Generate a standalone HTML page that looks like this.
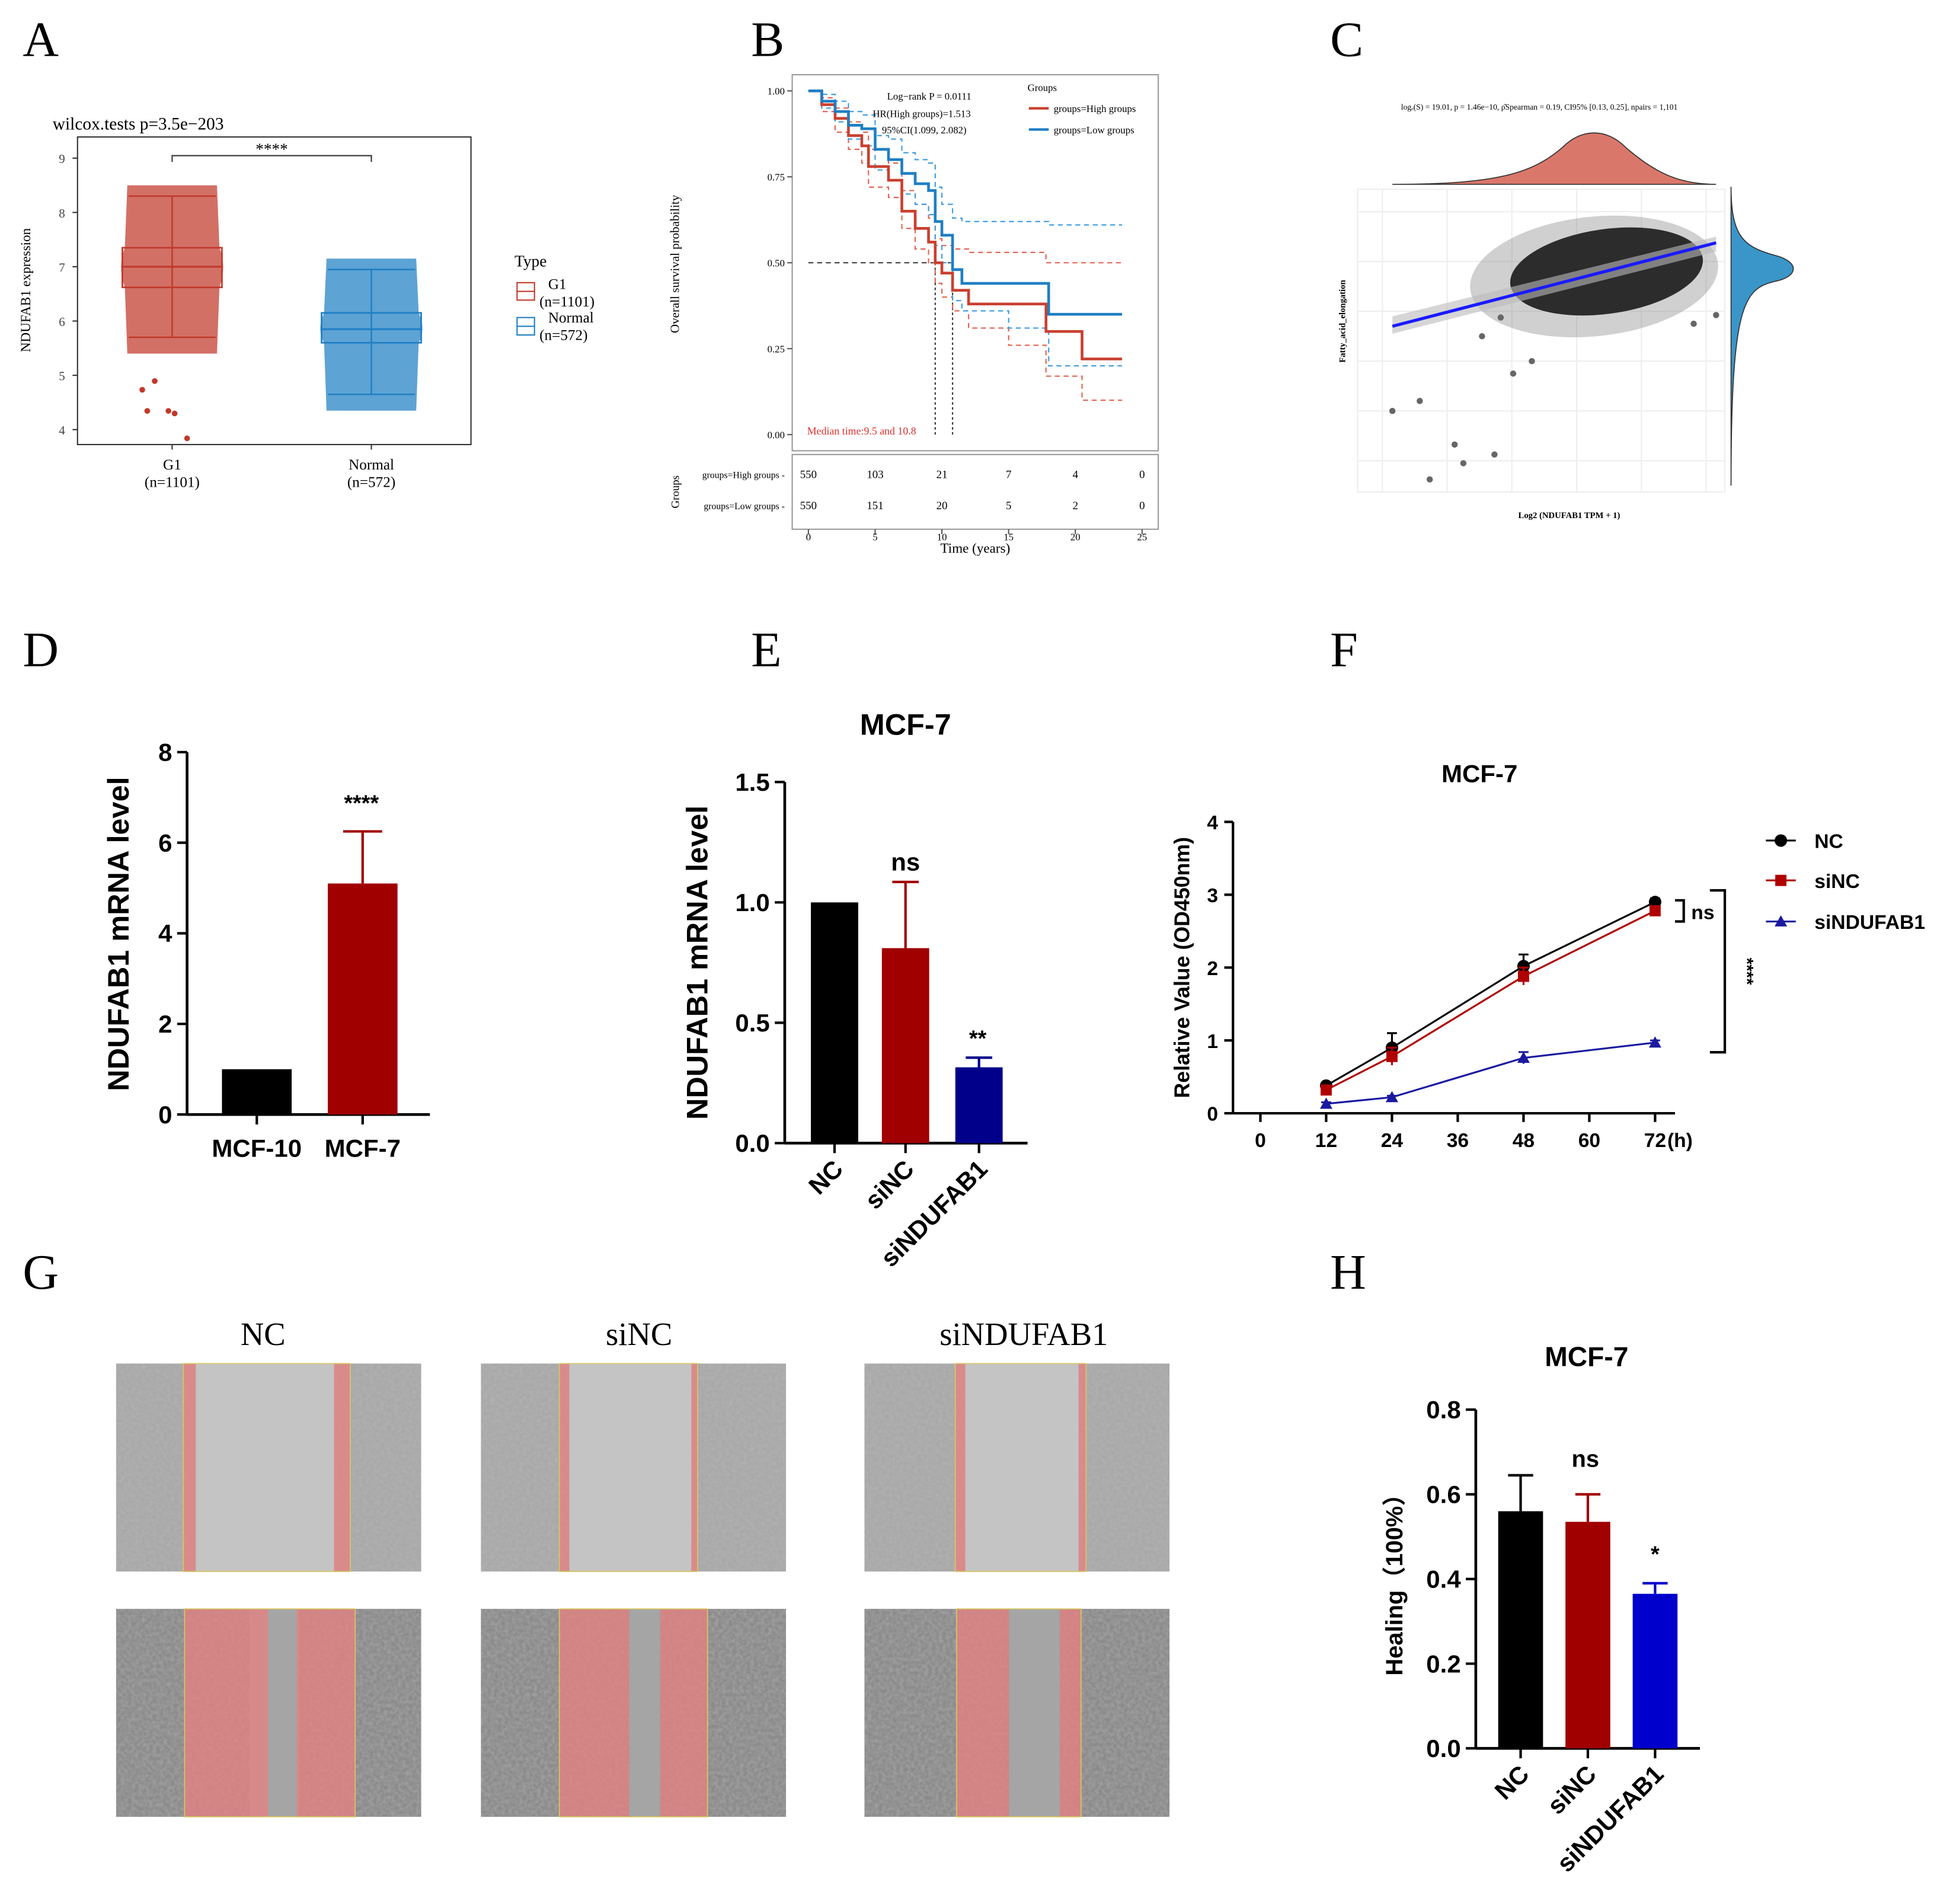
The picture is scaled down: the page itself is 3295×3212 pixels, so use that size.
<!DOCTYPE html>
<html><head><meta charset="utf-8">
<style>
html,body{margin:0;padding:0;background:#fff;}
svg{display:block;}
.serif{font-family:"Liberation Serif",serif;}
.sans{font-family:"Liberation Sans",sans-serif;font-weight:bold;}
</style></head>
<body>
<svg id="fig" width="3295" height="3212" viewBox="0 0 1568 1529" xmlns="http://www.w3.org/2000/svg">
<defs>
<filter id="noise" x="0" y="0" width="100%" height="100%">
<feTurbulence type="fractalNoise" baseFrequency="0.35" numOctaves="2" seed="3" result="n"/>
<feColorMatrix in="n" type="matrix" values="0 0 0 0 0.5  0 0 0 0 0.5  0 0 0 0 0.5  0 0 0 1.2 -0.3" result="m"/>
<feComposite in="m" in2="SourceGraphic" operator="in"/>
</filter>
</defs>
<g id="root"></g>
</svg>
<script>
// ---------- DATA ----------
// Panel A
const aCategories=['G1','Normal'];
const aBoxStats=[[5.7,6.62,7.0,7.35,8.3],[4.65,5.6,5.85,6.15,6.95]];
const aTicks=[4,5,6,7,8,9];
// Panel B
const bTicks=[0,0.25,0.5,0.75,1.0];
const bTickLabels=['0.00','0.25','0.50','0.75','1.00'];
const bTimeTicks=[0,5,10,15,20,25];
const bHighT=[0,1,2,3,4,4.5,5,6,7,8,9,9.5,10,10.8,12,15,17.8,20.5,23.5];
const bHighS=[1,0.96,0.92,0.87,0.84,0.78,0.78,0.74,0.65,0.6,0.56,0.5,0.47,0.42,0.38,0.38,0.3,0.22,0.22];
const bLowT=[0,1,2,3,4,5,6,7,8,9,9.5,10,10.8,11.5,15,18,23.5];
const bLowS=[1,0.97,0.94,0.9,0.89,0.83,0.8,0.76,0.73,0.71,0.62,0.58,0.48,0.44,0.44,0.35,0.35];
const bHighUp=[1,0.98,0.95,0.91,0.88,0.83,0.83,0.79,0.71,0.67,0.63,0.57,0.55,0.54,0.53,0.53,0.5,0.5,0.5];
const bHighLo=[1,0.94,0.88,0.83,0.79,0.72,0.72,0.69,0.6,0.54,0.5,0.44,0.4,0.36,0.31,0.26,0.17,0.1,0.1];
const bLowUp=[1,0.99,0.97,0.94,0.93,0.87,0.86,0.82,0.8,0.79,0.72,0.67,0.63,0.62,0.62,0.61,0.61];
const bLowLo=[1,0.95,0.91,0.86,0.84,0.77,0.74,0.7,0.67,0.64,0.55,0.5,0.39,0.36,0.31,0.2,0.2];
const bRiskHigh=['550','103','21','7','4','0'];
const bRiskLow=['550','151','20','5','2','0'];
// Panel D
const dCategories=['MCF-10','MCF-7'];
const dValues=[1,5.1];
const dErrors=[0,6.25];
const dTicks=[0,2,4,6,8];
// Panel E
const eCategories=['NC','siNC','siNDUFAB1'];
const eValues=[1.0,0.81,0.315];
const eErrors=[1.0,1.085,0.355];
const eTicks=[0,0.5,1.0,1.5];
const eTickLabels=['0.0','0.5','1.0','1.5'];
// Panel F
const fTimes=[12,24,48,72];
const fNC=[0.38,0.9,2.02,2.9];
const fNCerr=[0.42,1.1,2.18,2.95];
const fSiNC=[0.32,0.78,1.88,2.78];
const fSiNCerr=[0.36,0.9,2.0,2.84];
const fSi=[0.13,0.22,0.76,0.97];
const fSiErr=[0.15,0.24,0.84,1.0];
const fXTicks=[0,12,24,36,48,60,72];
const fYTicks=[0,1,2,3,4];
// Panel H
const hCategories=['NC','siNC','siNDUFAB1'];
const hValues=[0.56,0.535,0.365];
const hErrors=[0.645,0.6,0.39];
const hTicks=[0,0.2,0.4,0.6,0.8];
const hTickLabels=['0.0','0.2','0.4','0.6','0.8'];

// ---------- HELPERS ----------
const NS='http://www.w3.org/2000/svg';
const root=document.getElementById('root');
function mk(tag,attrs,parent,text){const e=document.createElementNS(NS,tag);for(const k in attrs)e.setAttribute(k,attrs[k]);if(text!==undefined)e.textContent=text;(parent||root).appendChild(e);return e;}
function grp(name,parent){const g=mk('g',{},parent);


return g;}
function txt(p,x,y,s,size,cls,anchor,extra){const t=mk('text',Object.assign({x:x,y:y,'font-size':size,'class':cls,'text-anchor':anchor||'middle'},extra||{}),p,s);return t;}
function line(p,x1,y1,x2,y2,st,w,dash){const a={x1:x1,y1:y1,x2:x2,y2:y2,stroke:st,'stroke-width':w||1};if(dash)a['stroke-dasharray']=dash;return mk('line',a,p);}
function lin(d0,d1,r0,r1){return v=>r0+(v-d0)*(r1-r0)/(d1-d0);}

[['A',18,45],['B',603,45],['C',1068,45],['D',18,535],['E',603,535],['F',1068,535],['G',18,1035],['H',1068,1035]].forEach(l=>{
const t=txt(root,l[1],l[2],l[0],40,'serif','start');

});

// ---------- PANEL A ----------
(function(){
const g=grp('panel-a-boxplot');
const y=lin(4,9,345,127);
const xs=[138,298];
mk('rect',{x:62,y:110,width:316,height:247,fill:'none',stroke:'#333','stroke-width':1},g);
txt(g,42,104,'wilcox.tests p=3.5e−203',14,'serif','start');
aTicks.forEach(t=>{line(g,58,y(t),62,y(t),'#333');txt(g,52,y(t)+4,t,10,'serif','end',{fill:'#444'});});
const yl=txt(g,24,233,'NDUFAB1 expression',11,'serif','middle',{transform:'rotate(-90 24 233)'});

const cols=['#c0392b','#1f7fc4'];
aCategories.forEach((c,i)=>{
const s=aBoxStats[i],x=xs[i],col=cols[i];
const cloud=mk('path',{d:`M${x-38},${y(s[1])} Q${x-44},${y(s[2])} ${x-38},${y(s[3])} L${x-36},${y(s[4]+0.2)} L${x+36},${y(s[4]+0.2)} L${x+38},${y(s[3])} Q${x+44},${y(s[2])} ${x+38},${y(s[1])} L${x+36},${y(s[0]-0.3)} L${x-36},${y(s[0]-0.3)} Z`,fill:col,opacity:0.72},g);

line(g,x,y(s[0]),x,y(s[4]),col,1.2);
line(g,x-35,y(s[0]),x+35,y(s[0]),col,1.2);line(g,x-35,y(s[4]),x+35,y(s[4]),col,1.2);
const b=mk('rect',{x:x-40,y:y(s[3]),width:80,height:y(s[1])-y(s[3]),fill:'none',stroke:col,'stroke-width':1.3},g);

line(g,x-40,y(s[2]),x+40,y(s[2]),col,1.5);
line(g,x,357,x,361,'#333');
});
txt(g,138,377,'G1',12,'serif');txt(g,138,391,'(n=1101)',12,'serif');
txt(g,298,377,'Normal',12,'serif');txt(g,298,391,'(n=572)',12,'serif');
[[118,330],[140,332],[150,352],[124,306],[114,313],[135,330]].forEach(p=>mk('circle',{cx:p[0],cy:p[1],r:2.3,fill:'#c0392b'},g));
mk('path',{d:'M138,130 L138,125 L298,125 L298,130',fill:'none',stroke:'#333'},g);
txt(g,218,124,'****',13,'serif');
const lg=grp('legend-a',g);
txt(lg,413,214,'Type',13,'serif','start');
mk('rect',{x:415,y:227,width:14,height:14,fill:'none',stroke:'#c0392b'},lg);line(lg,415,234,429,234,'#c0392b');
mk('rect',{x:415,y:255,width:14,height:14,fill:'none',stroke:'#1f7fc4'},lg);line(lg,415,262,429,262,'#1f7fc4');
txt(lg,440,232,'G1',12,'serif','start');txt(lg,433,246,'(n=1101)',12,'serif','start');
txt(lg,440,259,'Normal',12,'serif','start');txt(lg,433,273,'(n=572)',12,'serif','start');
})();

// ---------- PANEL B ----------
(function(){
const g=grp('panel-b-km');
const x=lin(0,25,649,917),y=lin(0,1,349,73);
mk('rect',{x:636,y:60,width:294,height:302,fill:'none',stroke:'#999'},g);
mk('rect',{x:636,y:365,width:294,height:60,fill:'none',stroke:'#999'},g);
bTicks.forEach((t,i)=>{line(g,632,y(t),636,y(t),'#555');txt(g,630,y(t)+3,bTickLabels[i],8,'serif','end');});
bTimeTicks.forEach(t=>{line(g,x(t),425,x(t),429,'#555');txt(g,x(t),434,t,8,'serif');});
txt(g,783,444,'Time (years)',11,'serif');
txt(g,545,212,'Overall survival probability',10,'serif','middle',{transform:'rotate(-90 545 212)'});
txt(g,545,395,'Groups',9,'serif','middle',{transform:'rotate(-90 545 395)'});
function step(T,S){let d=`M${x(T[0])},${y(S[0])}`;for(let i=1;i<T.length;i++){d+=` H${x(T[i])} V${y(S[i])}`;}return d;}
line(g,x(0),y(0.5),x(10.8),y(0.5),'#333',1,'4 3');
line(g,x(9.5),y(0.5),x(9.5),y(0),'#333',1,'2 2');
line(g,x(10.8),y(0.5),x(10.8),y(0),'#333',1,'2 2');
[[bHighUp,'#e0604f'],[bHighLo,'#e0604f']].forEach(c=>mk('path',{d:step(bHighT,c[0]),fill:'none',stroke:c[1],'stroke-dasharray':'4 3'},g));
[[bLowUp,'#3a9be0'],[bLowLo,'#3a9be0']].forEach(c=>mk('path',{d:step(bLowT,c[0]),fill:'none',stroke:c[1],'stroke-dasharray':'4 3'},g));
const h=mk('path',{d:step(bHighT,bHighS),fill:'none',stroke:'#c9402f','stroke-width':2.2},g);

const l=mk('path',{d:step(bLowT,bLowS),fill:'none',stroke:'#1f7fc4','stroke-width':2.2},g);

txt(g,746,80,'Log−rank P = 0.0111',8,'serif');
txt(g,740,94,'HR(High groups)=1.513',8,'serif');
txt(g,742,107,'95%CI(1.099, 2.082)',8,'serif');
txt(g,648,349,'Median time:9.5 and 10.8',8.5,'serif','start',{fill:'#e03030'});
const lg=grp('legend-b',g);
txt(lg,825,73,'Groups',8,'serif','start');
line(lg,826,87,842,87,'#c9402f',2);txt(lg,846,90,'groups=High groups',8,'serif','start');
line(lg,826,104,842,104,'#1f7fc4',2);txt(lg,846,107,'groups=Low groups',8,'serif','start');
txt(g,630,384,'groups=High groups -',7.5,'serif','end');txt(g,630,409,'groups=Low groups -',7.5,'serif','end');
bTimeTicks.forEach((t,i)=>{txt(g,x(t),384,bRiskHigh[i],9,'serif');txt(g,x(t),409,bRiskLow[i],9,'serif');});
})();

// ---------- PANEL C ----------
(function(){
const g=grp('panel-c-correlation');
txt(g,1236,88,'log\u2091(S) = 19.01, p = 1.46e−10, ρ\u0302Spearman = 0.19, CI95% [0.13, 0.25], npairs = 1,101',6.5,'serif');
const td=mk('path',{d:'M1118,148 C1200,148 1230,140 1255,118 C1270,103 1290,103 1305,118 C1330,140 1350,148 1378,148 Z',fill:'#d9776a',stroke:'#333','stroke-width':0.8},g);

const rd=mk('path',{d:'M1390,150 C1390,190 1400,198 1425,205 C1445,210 1445,222 1425,226 C1400,232 1390,245 1390,390 Z',fill:'#3a95c8',stroke:'#333','stroke-width':0.8},g);

mk('rect',{x:1090,y:152,width:295,height:243,fill:'#fff',stroke:'#eee'},g);
for(let i=0;i<6;i++){line(g,1090,170+i*40,1385,170+i*40,'#eee');line(g,1110+i*52,152,1110+i*52,395,'#eee');}
mk('ellipse',{cx:1280,cy:222,rx:100,ry:48,fill:'#777',opacity:0.35,transform:'rotate(-6 1280 222)'},g);
const cl=mk('ellipse',{cx:1290,cy:218,rx:78,ry:34,fill:'#1a1a1a',opacity:0.9,transform:'rotate(-8 1290 218)'},g);

[[1118,330],[1140,322],[1168,357],[1175,372],[1200,365],[1148,385],[1215,300],[1230,290],[1378,253],[1190,270],[1205,255],[1360,260]].forEach(p=>mk('circle',{cx:p[0],cy:p[1],r:2.5,fill:'#666'},g));
mk('path',{d:'M1118,268 L1378,202 L1378,190 L1118,254 Z',fill:'#bbb',opacity:0.6},g);
line(g,1118,262,1378,195,'#1a1aff',2.5);
txt(g,1080,258,'Fatty_acid_elongation',7,'serif','middle',{transform:'rotate(-90 1080 258)','font-weight':'bold'});
txt(g,1260,416,'Log2 (NDUFAB1 TPM + 1)',7,'serif','middle',{'font-weight':'bold'});
})();

function bars(name,cats,vals,errs,ticks,labels,x0,yTop,yBot,xEnd,bx,bw,cols,opts){
const g=grp(name);
const y=lin(ticks[0],ticks[ticks.length-1],yBot,yTop);
line(g,x0,yTop,x0,yBot,'#000',2.2);line(g,x0,yBot,xEnd,yBot,'#000',2.2);
ticks.forEach((t,i)=>{line(g,x0-8,y(t),x0,y(t),'#000',2);txt(g,x0-12,y(t)+7,labels[i],20,'sans','end');});
cats.forEach((c,i)=>{
if(errs[i]>vals[i]){line(g,bx[i]+bw/2,y(vals[i]),bx[i]+bw/2,y(errs[i]),cols[i],2);line(g,bx[i]+bw*0.22,y(errs[i]),bx[i]+bw*0.78,y(errs[i]),cols[i],2);}
const r=mk('rect',{x:bx[i],y:y(vals[i]),width:bw,height:yBot-y(vals[i]),fill:cols[i]},g);

line(g,bx[i]+bw/2,yBot,bx[i]+bw/2,yBot+8,'#000',2);
if(opts.rot){txt(g,bx[i]+bw/2+8,yBot+22,c,20,'sans','end',{transform:`rotate(-45 ${bx[i]+bw/2+8} ${yBot+22})`});}
else txt(g,bx[i]+bw/2,yBot+34,c,20,'sans');
});
return {g:g,y:y};
}

(function(){
const r=bars('panel-d-bars',dCategories,dValues,dErrors,dTicks,dTicks.map(String),150,604,895,345,[178,263],56,['#000','#a00000'],{rot:false});
txt(r.g,290,651,'****',18,'sans');
const yl=txt(r.g,103,750,'NDUFAB1 mRNA level',24,'sans','middle',{transform:'rotate(-90 103 750)'});

})();
(function(){
const r=bars('panel-e-bars',eCategories,eValues,eErrors,eTicks,eTickLabels,630,628,918,825,[651,708,767],38,['#000','#a00000','#00008b'],{rot:true});
txt(r.g,727,590,'MCF-7',24,'sans');
txt(r.g,727,699,'ns',20,'sans','middle',{'font-weight':'normal'});
txt(r.g,785,840,'**',18,'sans');
const yl=txt(r.g,568,773,'NDUFAB1 mRNA level',24,'sans','middle',{transform:'rotate(-90 568 773)'});

})();
(function(){
const r=bars('panel-h-bars',hCategories,hValues,hErrors,hTicks,hTickLabels,1185,1132,1404,1365,[1203,1257,1311],36,['#000','#a00000','#0000cc'],{rot:true});
txt(r.g,1274,1097,'MCF-7',22,'sans');
txt(r.g,1273,1178,'ns',19,'sans','middle',{'font-weight':'normal'});
txt(r.g,1329,1254,'*',18,'sans');
const yl=txt(r.g,1126,1268,'Healing（100%）',19,'sans','middle',{transform:'rotate(-90 1126 1268)',style:'font-family:"Liberation Sans","Noto Sans CJK SC",sans-serif'});

})();

(function(){
const g=grp('panel-f-line');
const x=lin(0,72,1012,1329),y=lin(0,4,894,660);
line(g,990,660,990,894,'#000',2);line(g,990,894,1345,894,'#000',2);
fYTicks.forEach(t=>{line(g,983,y(t),990,y(t),'#000',2);txt(g,978,y(t)+6,t,16,'sans','end',{'font-weight':'normal'});});
fXTicks.forEach(t=>{line(g,x(t),894,x(t),901,'#000',2);txt(g,x(t),921,t,16,'sans','middle',{'font-weight':'normal'});});
txt(g,1349,921,'(h)',16,'sans','middle',{'font-weight':'normal'});
txt(g,1188,628,'MCF-7',20,'sans');
txt(g,955,777,'Relative Value (OD450nm)',17,'sans','middle',{transform:'rotate(-90 955 777)','font-weight':'normal'});
const series=[[fNC,fNCerr,'#000','circle','nc'],[fSiNC,fSiNCerr,'#b00000','square','sinc'],[fSi,fSiErr,'#1a1aa0','tri','sindufab1']];
series.forEach(s=>{
const sg=grp('series-'+s[4],g);
s[0].forEach((v,i)=>{const e=s[1][i]-v;line(sg,x(fTimes[i]),y(v-e),x(fTimes[i]),y(s[1][i]),s[2],1.5);line(sg,x(fTimes[i])-4,y(s[1][i]),x(fTimes[i])+4,y(s[1][i]),s[2],1.5);});
mk('polyline',{points:s[0].map((v,i)=>x(fTimes[i])+','+y(v)).join(' '),fill:'none',stroke:s[2],'stroke-width':1.5},sg);
s[0].forEach((v,i)=>{const cx=x(fTimes[i]),cy=y(v);
if(s[3]=='circle')mk('circle',{cx:cx,cy:cy,r:5,fill:s[2]},sg);
else if(s[3]=='square')mk('rect',{x:cx-4.5,y:cy-4.5,width:9,height:9,fill:s[2]},sg);
else mk('polygon',{points:`${cx},${cy-5} ${cx-5},${cy+4} ${cx+5},${cy+4}`,fill:s[2]},sg);});
});
mk('path',{d:'M1345,723 H1352 V740 H1345',fill:'none',stroke:'#000','stroke-width':2},g);
txt(g,1358,738,'ns',16,'sans','start',{'font-weight':'normal'});
mk('path',{d:'M1373,715 H1385 V845 H1373',fill:'none',stroke:'#000','stroke-width':2},g);
txt(g,1398,780,'****',14,'sans','middle',{transform:'rotate(90 1398 780)'});
const lg=grp('legend-f',g);
[['NC','#000','circle',675],['siNC','#b00000','square',707],['siNDUFAB1','#1a1aa0','tri',740]].forEach(l=>{
line(lg,1418,l[3],1442,l[3],l[1],1.5);
if(l[2]=='circle')mk('circle',{cx:1430,cy:l[3],r:5,fill:l[1]},lg);
else if(l[2]=='square')mk('rect',{x:1425.5,y:l[3]-4.5,width:9,height:9,fill:l[1]},lg);
else mk('polygon',{points:`1430,${l[3]-5} 1425,${l[3]+4} 1435,${l[3]+4}`,fill:l[1]},lg);
txt(lg,1457,l[3]+6,l[0],16,'sans','start',{'font-weight':'normal'});});
})();

(function(){
const g=grp('panel-g-images');
const cols=[93,386,694],rows=[1095,1292],W=245,H=167;
[['NC',211],['siNC',513],['siNDUFAB1',822]].forEach(t=>txt(g,t[1],1080,t[0],26,'serif'));
const reds=[
[[[147,157],[268,281]],[[148,215],[238,285]]],
[[[449,457],[555,560]],[[449,505],[530,568]]],
[[[767,775],[866,872]],[[768,810],[851,868]]]
];
const gaps=[[[157,268],[200,240]],[[457,555],[505,530]],[[775,866],[810,851]]];
cols.forEach((cx,ci)=>rows.forEach((ry,ri)=>{
const ig=grp('image-'+['nc','sinc','sindufab1'][ci]+'-'+(ri?'48h':'0h'),g);
mk('rect',{x:cx,y:ry,width:W,height:H,fill:ri?'#8a8a8a':'#a8a8a8'},ig);
mk('rect',{x:cx,y:ry,width:W,height:H,fill:'#fff',filter:'url(#noise)',opacity:0.6},ig);
const gp=gaps[ci][ri];
mk('rect',{x:gp[0],y:ry,width:gp[1]-gp[0],height:H,fill:ri?'#a5a5a5':'#c4c4c4'},ig);
reds[ci][ri].forEach(r=>mk('rect',{x:r[0],y:ry,width:r[1]-r[0],height:H,fill:'#e88080',opacity:0.75},ig));
mk('rect',{x:reds[ci][ri][0][0],y:ry,width:reds[ci][ri][1][1]-reds[ci][ri][0][0],height:H,fill:'none',stroke:'#d8c860','stroke-width':0.8},ig);
}));
})();
</script>
</body></html>
